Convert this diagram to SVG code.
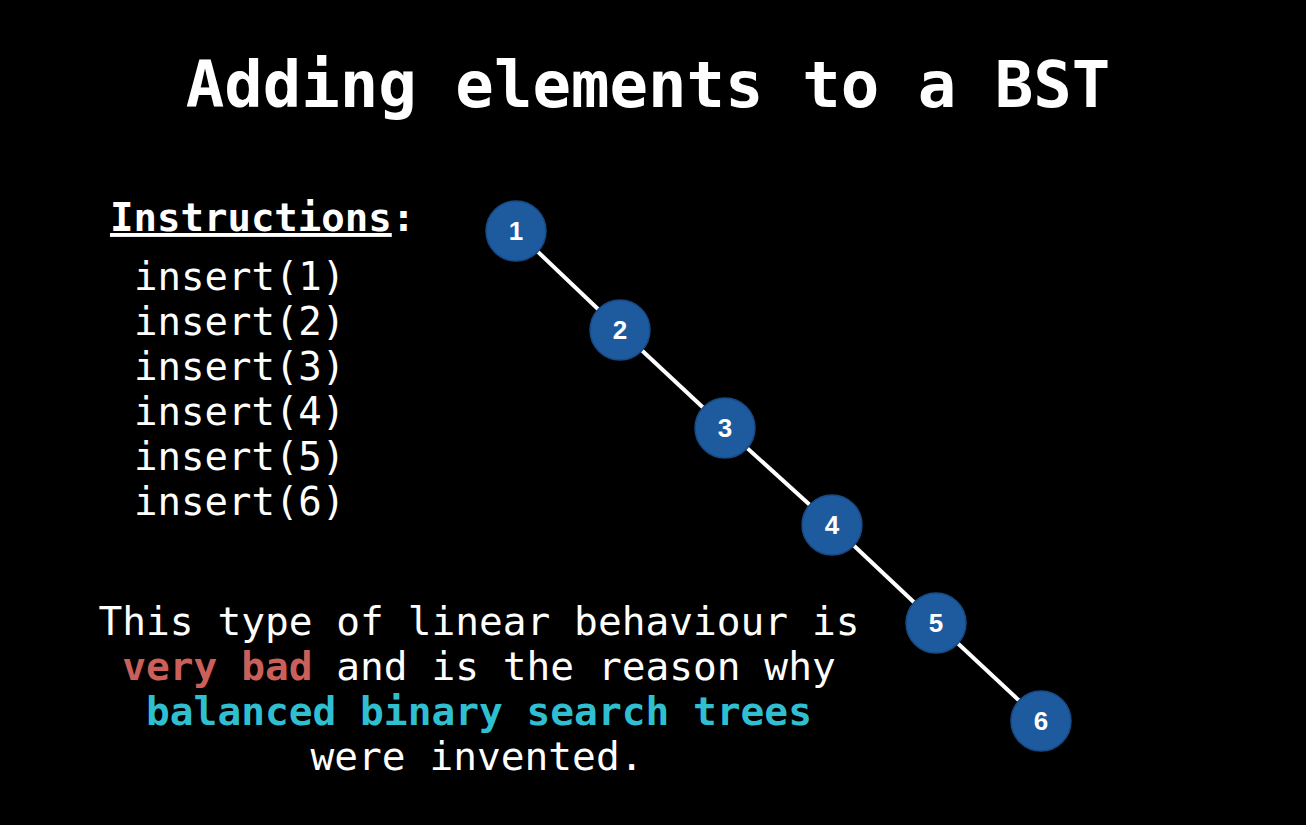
<svg xmlns="http://www.w3.org/2000/svg" width="1306" height="825" viewBox="0 0 1306 825">
<style>
.mono{font-family:"DejaVu Sans Mono","Liberation Mono",monospace;fill:#ffffff}
.node circle{fill:#1e5a9e;stroke:#174a85;stroke-width:1.5}
.node text{font-family:"Liberation Sans",Arial,sans-serif;font-weight:bold;font-size:26px;fill:#ffffff;text-anchor:middle}
.edge{stroke:#ffffff;stroke-width:4;stroke-linecap:round}
</style>
<rect width="1306" height="825" fill="#000000"/>
<text class="mono" x="648" y="107" font-size="64" font-weight="bold" text-anchor="middle">Adding elements to a BST</text>
<text class="mono" x="110" y="231" font-size="39" font-weight="bold"><tspan text-decoration="underline">Instructions</tspan>:</text>
<g class="mono" font-size="39">
<text x="134" y="290">insert(1)</text>
<text x="134" y="335">insert(2)</text>
<text x="134" y="380">insert(3)</text>
<text x="134" y="425">insert(4)</text>
<text x="134" y="470">insert(5)</text>
<text x="134" y="515">insert(6)</text>
</g>
<g class="mono" font-size="39.5" text-anchor="middle">
<text x="479" y="635">This type of linear behaviour is</text>
<text x="479" y="680"><tspan fill="#cb5f5a" font-weight="bold">very bad</tspan> and is the reason why</text>
<text x="479" y="725" fill="#2fbfd1" font-weight="bold">balanced binary search trees</text>
<text x="477" y="770">were invented.</text>
</g>
<g id="connectors">
<line class="edge" x1="516" y1="231" x2="620" y2="330"/>
<line class="edge" x1="620" y1="330" x2="725" y2="428"/>
<line class="edge" x1="725" y1="428" x2="832" y2="525"/>
<line class="edge" x1="832" y1="525" x2="936" y2="623"/>
<line class="edge" x1="936" y1="623" x2="1041" y2="721"/>
</g>
<g id="node1" class="node"><circle cx="516" cy="231" r="30"/><text x="516" y="240">1</text></g>
<g id="node2" class="node"><circle cx="620" cy="330" r="30"/><text x="620" y="339">2</text></g>
<g id="node3" class="node"><circle cx="725" cy="428" r="30"/><text x="725" y="437">3</text></g>
<g id="node4" class="node"><circle cx="832" cy="525" r="30"/><text x="832" y="534">4</text></g>
<g id="node5" class="node"><circle cx="936" cy="623" r="30"/><text x="936" y="632">5</text></g>
<g id="node6" class="node"><circle cx="1041" cy="721" r="30"/><text x="1041" y="730">6</text></g>
</svg>
